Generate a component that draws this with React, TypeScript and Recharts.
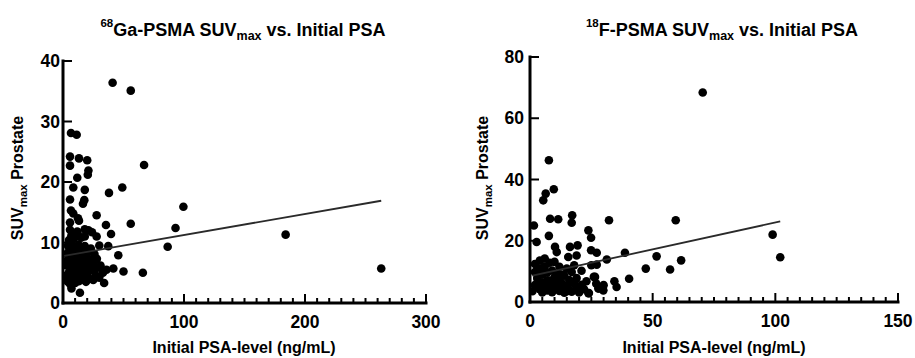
import React from 'react';
import { ScatterChart, Scatter, XAxis, YAxis } from 'recharts';

// 68Ga-PSMA: initial PSA (ng/mL) and SUVmax prostate
const gaPsa = [41, 56, 6.6, 11.3, 5.8, 13.2, 20, 5.8, 67, 21, 20.5, 11.8, 8.5, 49, 18, 38, 5.8, 17.6, 16.5, 99.5,
  6.6, 8.5, 27.8, 13.2, 5.8, 35.5, 56, 93, 18, 21, 5.8, 11.8, 39.7, 27.8, 184, 37.4, 86.5, 45.7, 66, 50,
  41.6, 36, 34, 263, 14, 7, 12.4,
  2, 3, 3, 4, 4, 5, 5, 5, 6, 6, 6, 6, 7, 7, 7, 8, 8, 8, 9, 9, 9, 10, 10, 10, 10, 11, 11, 12, 12, 12,
  13, 13, 13, 14, 14, 15, 15, 15, 16, 16, 17, 17, 18, 18, 19, 19, 20, 20, 21, 22, 22, 23, 24, 25, 25, 26, 27, 28, 28, 30,
  31, 30, 33, 24, 18, 3, 4, 6, 8, 9, 11, 13, 14, 16, 2, 5, 7];
const gaSuv = [36.4, 35.1, 28.1, 27.8, 24.2, 23.9, 23.6, 22.7, 22.8, 21.9, 21.2, 20.7, 19.1, 19.1, 18.7, 18.2, 17.1, 17.0, 16.4, 15.9,
  15.3, 14.8, 14.5, 13.6, 13.3, 12.9, 13.1, 12.4, 12.2, 12.0, 12.1, 11.8, 11.4, 11.0, 11.3, 9.4, 9.3, 7.9, 5.0, 5.2,
  5.7, 5.5, 3.3, 5.7, 1.7, 2.4, 14.0,
  4.5, 6.2, 8.1, 3.5, 9.5, 5.1, 7.3, 10.4, 3.1, 4.4, 6.6, 8.8, 5.6, 9.9, 11.2, 3.8, 4.9, 7.1, 6.0, 8.3, 10.6, 3.3, 5.2, 6.9, 9.1, 4.1, 7.7, 5.5, 8.6, 11.5,
  3.6, 6.3, 9.6, 4.7, 7.4, 5.8, 8.9, 10.8, 3.9, 6.5, 4.4, 7.9, 5.3, 9.4, 3.5, 6.8, 4.9, 8.2, 5.9, 4.0, 7.2, 9.0, 5.4, 3.8, 6.6, 8.1, 4.6, 5.8, 7.3, 4.2,
  6.2, 9.5, 5.0, 11.7, 11.0, 4.0, 7.0, 5.0, 6.0, 4.0, 6.0, 7.8, 9.0, 5.0, 6.8, 8.6, 8.0];

// 18F-PSMA: initial PSA (ng/mL) and SUVmax prostate
const fPsa = [70.4, 7.7, 9.7, 6.4, 5.4, 1.6, 8.2, 11.5, 17.2, 17, 32.2, 59.4, 7.7, 2.7, 23.8, 24.9, 10.2, 10.9, 16.3, 19.4,
  15.6, 19, 24.9, 27.2, 38.7, 31.3, 51.6, 61.6, 57.1, 47.2, 40.4, 34.4, 35.3, 98.9, 102, 27.2, 26.5, 27.9, 29.9, 23.8,
  1, 2, 2, 3, 3, 4, 4, 4, 5, 5, 5, 6, 6, 6, 7, 7, 7, 8, 8, 9, 9, 9, 10, 10, 10, 11, 11, 12, 12, 12,
  13, 13, 14, 14, 15, 15, 16, 16, 17, 17, 18, 18, 19, 19, 20, 21, 21, 22, 23, 24, 25, 26, 27, 28, 30,
  3, 5, 6, 8, 9, 11, 13, 15, 2, 4];
const fSuv = [68.4, 46.3, 36.8, 35.4, 33.2, 25.0, 27.2, 27.0, 28.3, 25.9, 26.7, 26.7, 21.6, 19.6, 23.4, 21.0, 18.0, 16.3, 18.0, 18.5,
  14.7, 15.2, 16.9, 16.1, 16.1, 13.9, 14.9, 13.6, 10.6, 10.9, 7.6, 6.8, 4.9, 22.0, 14.6, 12.2, 8.2, 4.4, 3.8, 2.9,
  3.5, 9.8, 12.4, 5.1, 7.6, 4.2, 10.8, 13.5, 3.1, 6.3, 8.9, 4.6, 11.6, 14.2, 3.8, 7.0, 9.6, 5.4, 12.8, 3.2, 6.8, 10.3, 4.4, 8.1, 13.1, 5.7, 9.2, 3.6, 7.4, 11.5,
  4.9, 6.1, 3.0, 8.6, 5.3, 10.9, 4.0, 7.2, 3.4, 9.8, 6.0, 12.0, 4.5, 7.8, 3.1, 5.6, 10.2, 4.2, 6.8, 2.9, 12.0, 8.2, 6.0, 4.4, 5.5,
  8.0, 11.0, 5.5, 7.0, 4.8, 6.5, 9.0, 3.5, 5.5, 6.0];

// linear regression line end points
const gaFitPsa = [1, 263];
const gaFitSuv = [7.8, 16.9];
const fFitPsa = [1, 102];
const fFitSuv = [8.6, 26.3];

// axis ticks
const gaXTicks = Array.from({ length: 31 }, (_, i) => i * 10);
const gaXLabels = [0, 100, 200, 300];
const gaYTicks = [0, 10, 20, 30, 40];
const fXTicks = Array.from({ length: 31 }, (_, i) => i * 5);
const fXLabels = [0, 50, 100, 150];
const fYTicks = [0, 20, 40, 60, 80];

const toPoints = (xs: number[], ys: number[]) => xs.map((x, i) => ({ x, y: ys[i] }));

const FONT = '"Liberation Sans", Arial, Helvetica, sans-serif';

const Dot = (p: any) => <circle cx={p.cx} cy={p.cy} r={4.3} fill="#000" />;
const NoDot = () => <g />;

const makeXTick = (labels: number[]) => (p: any) => {
  const v = p.payload.value;
  const major = labels.includes(v);
  return (
    <g>
      <line x1={p.x} x2={p.x} y1={p.y} y2={p.y - (major ? 9 : 5)} stroke="#000" strokeWidth={2} />
      {major && (
        <text x={p.x} y={p.y + 25} textAnchor="middle" fontFamily={FONT} fontWeight="bold" fontSize={17.5} fill="#000">
          {v}
        </text>
      )}
    </g>
  );
};

const makeYTick = (gap: number) => (p: any) => {
  const v = p.payload.value;
  return (
    <g>
      <line x1={p.x} x2={p.x + 9} y1={p.y} y2={p.y} stroke="#000" strokeWidth={2} />
      <text x={p.x - gap} y={p.y + 6} textAnchor="end" fontFamily={FONT} fontWeight="bold" fontSize={17.5} fill="#000">
        {v}
      </text>
    </g>
  );
};

const axisLine = { stroke: '#000', strokeWidth: 3, strokeLinecap: 'square' as const };

export default function App() {
  const gaData = toPoints(gaPsa, gaSuv);
  const fData = toPoints(fPsa, fSuv);
  const gaFit = toPoints(gaFitPsa, gaFitSuv);
  const fFit = toPoints(fFitPsa, fFitSuv);

  return (
    <div style={{ position: 'absolute', left: 0, top: 0, width: 915, height: 358, background: '#fff', overflow: 'hidden' }}>
      <div style={{ position: 'absolute', left: 0, top: 0 }}>
        <ScatterChart width={455} height={358} margin={{ top: 61, right: 29, bottom: 25, left: 13 }}>
          <XAxis type="number" dataKey="x" domain={[0, 300]} ticks={gaXTicks} interval={0} height={30}
            tickSize={0} tickMargin={0} tickLine={false} axisLine={axisLine} tick={makeXTick(gaXLabels)} allowDataOverflow />
          <YAxis type="number" dataKey="y" domain={[0, 40]} ticks={gaYTicks} interval={0} width={50}
            tickSize={0} tickMargin={0} tickLine={false} axisLine={axisLine} tick={makeYTick(3)} allowDataOverflow />
          <Scatter data={gaData} shape={Dot} isAnimationActive={false} />
          <Scatter data={gaFit} shape={NoDot} line={{ stroke: '#2a2a2a', strokeWidth: 1.8 }} isAnimationActive={false} />
        </ScatterChart>
      </div>
      <div style={{ position: 'absolute', left: 455, top: 0 }}>
        <ScatterChart width={460} height={358} margin={{ top: 57, right: 17, bottom: 26, left: 25 }}>
          <XAxis type="number" dataKey="x" domain={[0, 150]} ticks={fXTicks} interval={0} height={30}
            tickSize={0} tickMargin={0} tickLine={false} axisLine={axisLine} tick={makeXTick(fXLabels)} allowDataOverflow />
          <YAxis type="number" dataKey="y" domain={[0, 80]} ticks={fYTicks} interval={0} width={50}
            tickSize={0} tickMargin={0} tickLine={false} axisLine={axisLine} tick={makeYTick(6)} allowDataOverflow />
          <Scatter data={fData} shape={Dot} isAnimationActive={false} />
          <Scatter data={fFit} shape={NoDot} line={{ stroke: '#2a2a2a', strokeWidth: 1.8 }} isAnimationActive={false} />
        </ScatterChart>
      </div>
      <svg width={915} height={358} style={{ position: 'absolute', left: 0, top: 0, pointerEvents: 'none' }}>
        <g fontFamily={FONT} fontWeight="bold" fill="#000" style={{ whiteSpace: 'pre' }}>
          <text x={243} y={36} textAnchor="middle" fontSize={18}>
            <tspan fontSize={11.5} dy={-9}>68</tspan>
            <tspan dy={9}>Ga-PSMA SUV</tspan>
            <tspan fontSize={12.5} dy={4}>max</tspan>
            <tspan dy={-4}> vs. Initial PSA</tspan>
          </text>
          <text x={722} y={36} textAnchor="middle" fontSize={18}>
            <tspan fontSize={11.5} dy={-9}>18</tspan>
            <tspan dy={9}>F-PSMA SUV</tspan>
            <tspan fontSize={12.5} dy={4}>max</tspan>
            <tspan dy={-4}> vs. Initial PSA</tspan>
          </text>
          <text x={244} y={353} textAnchor="middle" fontSize={16}>Initial PSA-level (ng/mL)</text>
          <text x={714} y={353} textAnchor="middle" fontSize={16}>Initial PSA-level (ng/mL)</text>
          <text transform="translate(23,178) rotate(-90)" textAnchor="middle" fontSize={16}>
            <tspan>SUV</tspan>
            <tspan fontSize={11.5} dy={4}>max</tspan>
            <tspan dy={-4}> Prostate</tspan>
          </text>
          <text transform="translate(488,178) rotate(-90)" textAnchor="middle" fontSize={16}>
            <tspan>SUV</tspan>
            <tspan fontSize={11.5} dy={4}>max</tspan>
            <tspan dy={-4}> Prostate</tspan>
          </text>
        </g>
      </svg>
    </div>
  );
}
